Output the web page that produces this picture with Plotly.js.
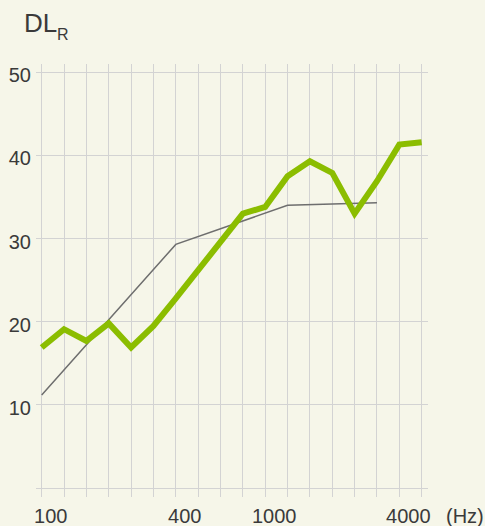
<!DOCTYPE html>
<html>
<head>
<meta charset="utf-8">
<script src="https://cdn.plot.ly/plotly-3.0.1.min.js"></script>
<style>
html,body{margin:0;padding:0;background:#f6f6e9;}
#chart{width:485px;height:526px;}
</style>
</head>
<body>
<div id="chart"></div>
<script>
// 1/3-octave band centre frequencies (Hz)
const bands = ['100','125','160','200','250','315','400','500','630','800','1000','1250','1600','2000','2500','3150','4000','5000'];
// Measured DL_R values (dB)
const measured = [16.9, 19.1, 17.7, 19.8, 16.9, 19.5, 22.8, 26.2, 29.6, 33.0, 33.8, 37.5, 39.3, 37.9, 33.0, 36.9, 41.3, 41.6];
// Reference curve (vertices)
const refBands = ['100','400','1250','3150'];
const refValues = [11.2, 29.3, 34.0, 34.3];
// Axis labels
const xLabelBands = ['100','400','1000','4000'];
const yTicks = [0, 10, 20, 30, 40, 50];
const yTickText = ['', '10', '20', '30', '40', '50'];

const bg = '#f6f6e9';
const grid = '#d3d3d3';
const txt = '#3a3a3a';
const fontFam = 'Liberation Sans, Arial, sans-serif';

const traces = [
  {
    x: refBands, y: refValues, type: 'scatter', mode: 'lines',
    line: {color: '#6e6e6e', width: 1.5}, hoverinfo: 'skip'
  },
  {
    x: bands, y: measured, type: 'scatter', mode: 'lines',
    line: {color: '#8bbd00', width: 6}, hoverinfo: 'skip'
  }
];

const layout = {
  width: 485, height: 526,
  margin: {l: 36, r: 57, t: 64, b: 37.7, pad: 0},
  paper_bgcolor: bg, plot_bgcolor: bg,
  showlegend: false,
  font: {family: fontFam, color: txt, size: 20},
  xaxis: {
    type: 'category',
    categoryorder: 'array', categoryarray: bands,
    range: [-0.255, 17.284],
    tickmode: 'array',
    tickvals: bands,
    ticktext: bands.map(b => xLabelBands.includes(b) ? b : ''),
    showgrid: true, gridcolor: grid, gridwidth: 1,
    ticks: 'outside', ticklen: 8, tickcolor: grid, tickwidth: 1,
    showline: true, linecolor: grid, linewidth: 1,
    zeroline: false,
    ticklabelshift: 9,
    ticklabelstandoff: 2,
    tickfont: {family: fontFam, size: 20, color: txt},
    fixedrange: true
  },
  yaxis: {
    range: [0, 51],
    tickmode: 'array', tickvals: yTicks, ticktext: yTickText,
    showgrid: true, gridcolor: grid, gridwidth: 1,
    ticks: '', zeroline: false, showline: false,
    ticklabelshift: 3,
    ticklabelstandoff: 4,
    tickfont: {family: fontFam, size: 20, color: txt},
    fixedrange: true
  },
  annotations: [
    {
      text: 'DL', xref: 'paper', yref: 'paper',
      x: -0.0367, y: 1.0973, xanchor: 'left', yanchor: 'middle',
      showarrow: false, font: {family: fontFam, size: 26, color: txt}
    },
    {
      text: 'R', xref: 'paper', yref: 'paper',
      x: 0.0472, y: 1.0707, xanchor: 'left', yanchor: 'middle',
      showarrow: false, font: {family: fontFam, size: 16, color: txt}
    },
    {
      text: '(Hz)', xref: 'paper', yref: 'paper',
      x: 1.095, y: -0.036, xanchor: 'center', yanchor: 'top',
      showarrow: false, font: {family: fontFam, size: 20, color: txt}
    }
  ]
};

Plotly.newPlot('chart', traces, layout, {displayModeBar: false, staticPlot: true});
</script>
</body>
</html>
